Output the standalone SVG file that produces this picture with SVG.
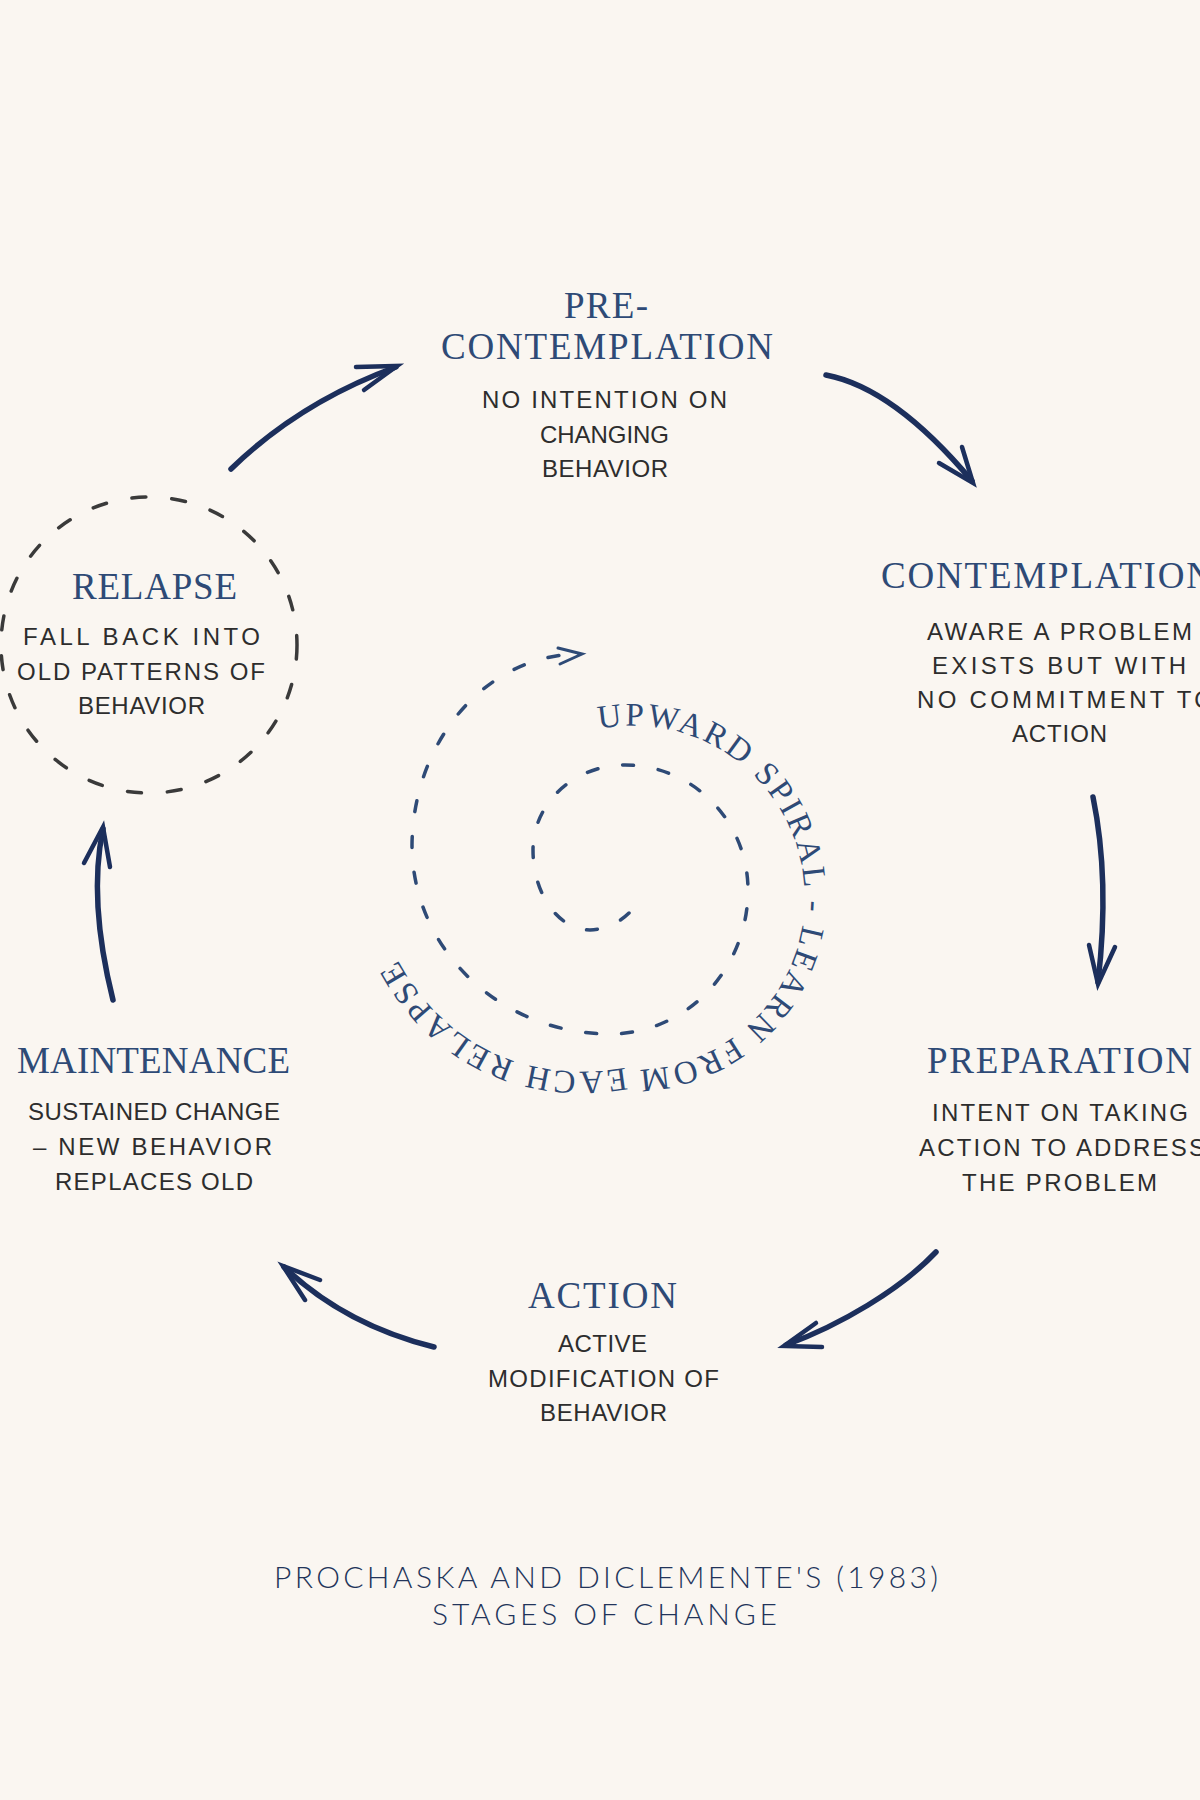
<svg xmlns="http://www.w3.org/2000/svg" width="1200" height="1800" viewBox="0 0 1200 1800">
  <defs>
    <style>
      .hd { font-family: "Liberation Serif", "Times New Roman", serif; font-size: 37px; fill: #2e4a76; }
      .hw { font-family: "Liberation Sans Narrow", "Liberation Sans", Arial, sans-serif; font-size: 24px; fill: #2d2d2d; }
      .ring { font-family: "Liberation Serif", "Times New Roman", serif; font-size: 33px; fill: #2e4a76; letter-spacing: 2.7px; }
      .ft { font-family: Lato, "Liberation Sans", sans-serif; font-weight: 300; font-size: 30px; fill: #22345a; }
      .arrow { fill: none; stroke: #1c2f5c; stroke-width: 5.5; stroke-linecap: round; stroke-linejoin: round; }
      .barb { fill: none; stroke: #1c2f5c; stroke-width: 4.5; stroke-linecap: round; stroke-linejoin: miter; }
      .spiral { fill: none; stroke: #2e4a76; stroke-width: 3.5; stroke-linecap: round; stroke-dasharray: 11 25; }
      .ringdash { fill: none; stroke: #3a3a3a; stroke-width: 3.5; stroke-linecap: round; stroke-dasharray: 14 26; }
    </style>
    <path id="ringPath" d="M599,729 A172,172 0 1 1 617,1069 C545,1080 450,1060 395,955 L370,905"/>
  </defs>

  <rect x="0" y="0" width="1200" height="1800" fill="#faf6f1"/>

  <g id="connectors">
    <path class="arrow" d="M231,469 Q300,402 396,367"/>
    <path class="barb" d="M356,367 L397,366 L364,390"/>

    <path class="arrow" d="M826,375 Q894,388 972,481"/>
    <path class="barb" d="M939,463 L973,483 L962,447"/>

    <path class="arrow" d="M1093,797 Q1110,880 1098,982"/>
    <path class="barb" d="M1089,945 L1098,984 L1115,947"/>

    <path class="arrow" d="M936,1252 C900,1290 840,1325 786,1345"/>
    <path class="barb" d="M816,1323 L784,1346 L822,1347"/>

    <path class="arrow" d="M434,1347 Q345,1325 284,1267"/>
    <path class="barb" d="M320,1280 L283,1266 L305,1300"/>

    <path class="arrow" d="M113,1000 Q88,900 103,829"/>
    <path class="barb" d="M84,863 L103,827 L110,867"/>
  </g>

  <g id="pre-contemplation">
    <text class="hd" x="564" y="318" textLength="84">PRE-</text>
    <text class="hd" x="441" y="359" textLength="332">CONTEMPLATION</text>
    <text class="hw" x="482" y="408" textLength="245">NO INTENTION ON</text>
    <text class="hw" x="540" y="443" textLength="129">CHANGING</text>
    <text class="hw" x="542" y="477" textLength="126">BEHAVIOR</text>
  </g>

  <g id="contemplation">
    <text class="hd" x="881" y="588" textLength="332">CONTEMPLATION</text>
    <text class="hw" x="927" y="640" textLength="265">AWARE A PROBLEM</text>
    <text class="hw" x="932" y="674" textLength="254">EXISTS BUT WITH</text>
    <text class="hw" x="917" y="708" textLength="296">NO COMMITMENT TO</text>
    <text class="hw" x="1012" y="742" textLength="95">ACTION</text>
  </g>

  <g id="preparation">
    <text class="hd" x="927" y="1073" textLength="265">PREPARATION</text>
    <text class="hw" x="932" y="1121" textLength="256">INTENT ON TAKING</text>
    <text class="hw" x="919" y="1156" textLength="286">ACTION TO ADDRESS</text>
    <text class="hw" x="962" y="1191" textLength="195">THE PROBLEM</text>
  </g>

  <g id="action">
    <text class="hd" x="528" y="1308" textLength="149">ACTION</text>
    <text class="hw" x="558" y="1352" textLength="89">ACTIVE</text>
    <text class="hw" x="488" y="1387" textLength="231">MODIFICATION OF</text>
    <text class="hw" x="540" y="1421" textLength="127">BEHAVIOR</text>
  </g>

  <g id="maintenance">
    <text class="hd" x="17" y="1073" textLength="273">MAINTENANCE</text>
    <text class="hw" x="28" y="1120" textLength="252">SUSTAINED CHANGE</text>
    <text class="hw" x="33" y="1155" textLength="239">– NEW BEHAVIOR</text>
    <text class="hw" x="55" y="1190" textLength="198">REPLACES OLD</text>
  </g>

  <g id="relapse">
    <circle class="ringdash" cx="149" cy="645" r="148"/>
    <text class="hd" x="72" y="599" textLength="165">RELAPSE</text>
    <text class="hw" x="23" y="645" textLength="237">FALL BACK INTO</text>
    <text class="hw" x="17" y="680" textLength="248">OLD PATTERNS OF</text>
    <text class="hw" x="78" y="714" textLength="127">BEHAVIOR</text>
  </g>

  <g id="upward-spiral">
    <path class="spiral" d="M629,913 A60,60 0 0 1 590,930 A57,80 0 0 1 533,850 A92,85 0 0 1 625,765 A123,125 0 0 1 748,890 A138,144 0 0 1 610,1034 A198,189 0 0 1 412,845 A168,193 0 0 1 578,654"/>
    <path fill="none" stroke="#2e4a76" stroke-width="3" stroke-linecap="round" stroke-linejoin="miter" d="M558,648 L582,654 L560,664"/>
    <text class="ring"><textPath href="#ringPath">UPWARD SPIRAL - LEARN FROM EACH RELAPSE</textPath></text>
  </g>

  <g id="title">
    <text class="ft" x="274" y="1588" textLength="664">PROCHASKA AND DICLEMENTE'S (1983)</text>
    <text class="ft" x="432" y="1625" textLength="345">STAGES OF CHANGE</text>
  </g>
</svg>
